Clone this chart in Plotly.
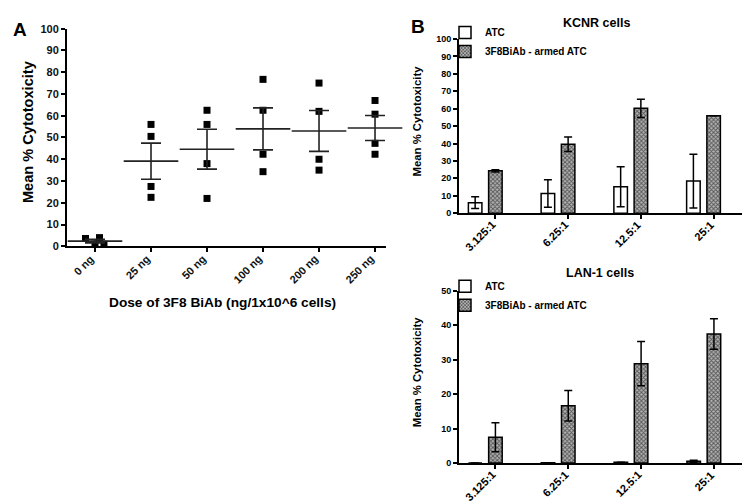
import numpy as np
import plotly.graph_objects as go

# ---------------- Data ----------------
# Panel A: individual replicate values per dose
doses = ["0 ng", "25 ng", "50 ng", "100 ng", "200 ng", "250 ng"]
rep_0ng = [3.6, 1.0, 4.0, 1.0]
rep_25ng = [56.0, 50.5, 27.5, 22.5]
rep_50ng = [62.5, 56.0, 38.0, 22.0]
rep_100ng = [76.7, 62.5, 42.3, 34.3]
rep_200ng = [75.0, 62.0, 40.0, 35.0]
rep_250ng = [67.0, 60.7, 47.3, 42.3]
replicates = [rep_0ng, rep_25ng, rep_50ng, rep_100ng, rep_200ng, rep_250ng]
jitter_0ng = [-0.17, 0.0, 0.08, 0.16]  # horizontal spread of overlapping points

# Panel B
ratios = ["3.125:1", "6.25:1", "12.5:1", "25:1"]
kcnr_atc = [6.0, 11.3, 15.1, 18.4]
kcnr_atc_err = [3.4, 7.9, 11.5, 15.5]
kcnr_armed = [24.3, 39.6, 60.2, 55.9]
kcnr_armed_err = [0.6, 4.2, 5.3, 0.0]
lan1_atc = [0.0, 0.1, 0.2, 0.5]
lan1_atc_err = [0.0, 0.0, 0.0, 0.3]
lan1_armed = [7.5, 16.6, 28.8, 37.4]
lan1_armed_err = [4.2, 4.4, 6.4, 4.4]

FONT = "Liberation Sans, Arial, sans-serif"
W, H = 750, 503

def px(x):
    return x / W

def py(y):
    return 1 - y / H

fig = go.Figure()

# ---------------- Panel A ----------------
xs, ys = [], []
for i, vals in enumerate(replicates):
    for j, v in enumerate(vals):
        off = jitter_0ng[j] if i == 0 else 0.0
        xs.append(i + off)
        ys.append(v)

fig.add_trace(go.Scatter(
    x=xs, y=ys, mode="markers", xaxis="x", yaxis="y", showlegend=False,
    marker=dict(symbol="square", size=7, color="black"), cliponaxis=False,
))

means = [float(np.mean(v)) for v in replicates]
sems = [float(np.std(v, ddof=1) / np.sqrt(len(v))) for v in replicates]
fig.add_trace(go.Scatter(
    x=list(range(len(doses))), y=means, mode="markers", xaxis="x", yaxis="y",
    showlegend=False, cliponaxis=False,
    marker=dict(symbol="line-ew", size=39, color="black",
                line=dict(color="#222", width=1.6)),
    error_y=dict(type="data", array=sems, visible=True, color="#222",
                 thickness=1.6, width=10),
))

# ---------------- Panel B ----------------
bw = 0.186
atc_off = -0.278 - bw / 2
armed_off = -bw / 2
pattern = dict(shape="x", fgcolor="#000000", bgcolor="#b4b4b4", size=3, solidity=0.55)

def add_pair(atc, atc_err, armed, armed_err, xa, ya, legend):
    fig.add_trace(go.Bar(
        x=ratios, y=atc, name="ATC", xaxis=xa, yaxis=ya, legend=legend,
        width=bw, offset=atc_off,
        marker=dict(color="white", line=dict(color="black", width=1.5)),
        error_y=dict(type="data", array=atc_err, visible=True, color="black",
                     thickness=1.5, width=4),
    ))
    fig.add_trace(go.Bar(
        x=ratios, y=armed, name="3F8BiAb - armed ATC", xaxis=xa, yaxis=ya,
        legend=legend, width=bw, offset=armed_off,
        marker=dict(color="#b4b4b4", line=dict(color="black", width=1.5), pattern=pattern),
        error_y=dict(type="data", array=armed_err, visible=True, color="black",
                     thickness=1.5, width=4),
    ))

add_pair(kcnr_atc, kcnr_atc_err, kcnr_armed, kcnr_armed_err, "x2", "y2", "legend")
add_pair(lan1_atc, lan1_atc_err, lan1_armed, lan1_armed_err, "x3", "y3", "legend2")

# ---------------- Axes ----------------
axis_common = dict(showline=True, linecolor="black", linewidth=2, ticks="outside",
                   ticklen=4, tickwidth=1.5, tickcolor="black", showgrid=False,
                   zeroline=False, fixedrange=True)

fig.update_layout(
    width=W, height=H, margin=dict(l=0, r=0, t=0, b=0),
    paper_bgcolor="white", plot_bgcolor="white",
    font=dict(family=FONT, color="black"),
    barmode="overlay",
    xaxis=dict(domain=[px(59), px(378)], range=[-0.5, 5.196], anchor="y",
               tickmode="array", tickvals=list(range(len(doses))), ticktext=doses,
               showticklabels=False, **axis_common),
    yaxis=dict(domain=[py(238), py(15)], range=[0, 100], anchor="x", dtick=10,
               tickfont=dict(size=11, weight="bold", color="#111"), **axis_common),
    xaxis2=dict(domain=[px(451), px(742)], range=[-0.5, 3.5], anchor="y2",
                type="category", showticklabels=False, **axis_common),
    yaxis2=dict(domain=[py(204), py(25.7)], range=[0, 100], anchor="x2", dtick=10,
                tickfont=dict(size=9, weight="bold"), **axis_common),
    xaxis3=dict(domain=[px(451), px(746)], range=[-0.5, 3.55], anchor="y3",
                type="category", showticklabels=False, **axis_common),
    yaxis3=dict(domain=[py(460), py(283.3)], range=[0, 50], anchor="x3", dtick=10,
                tickfont=dict(size=9, weight="bold"), **axis_common),
    legend=dict(x=px(437), y=py(4), xanchor="left", yanchor="top",
                bgcolor="rgba(0,0,0,0)", itemwidth=30, tracegroupgap=0,
                font=dict(size=10, weight="bold", family=FONT)),
    legend2=dict(x=px(437), y=py(264), xanchor="left", yanchor="top",
                 bgcolor="rgba(0,0,0,0)", itemwidth=30, tracegroupgap=0,
                 font=dict(size=10, weight="bold", family=FONT)),
)

ann = [
    dict(text="A", x=px(3), y=py(3), xanchor="left", yanchor="top", font=dict(size=19, weight="bold")),
    dict(text="B", x=px(401), y=py(0), xanchor="left", yanchor="top", font=dict(size=19, weight="bold")),
    dict(text="Mean % Cytotoxicity", x=px(20), y=py(121), textangle=-90,
         xanchor="center", yanchor="middle", font=dict(size=14.6, weight="bold")),
    dict(text="Dose of 3F8 BiAb (ng/1x10^6 cells)", x=px(214), y=py(296),
         xanchor="center", yanchor="middle", font=dict(size=13.7, weight="bold")),
    dict(text="KCNR cells", x=px(588), y=py(9), xanchor="center", yanchor="middle",
         font=dict(size=12.5, weight="bold")),
    dict(text="LAN-1 cells", x=px(592), y=py(265), xanchor="center", yanchor="middle",
         font=dict(size=12.5, weight="bold")),
    dict(text="Mean % Cytotoxicity", x=px(409), y=py(110), textangle=-90,
         xanchor="center", yanchor="middle", font=dict(size=11.3, weight="bold")),
    dict(text="Mean % Cytotoxicity", x=px(409), y=py(367), textangle=-90,
         xanchor="center", yanchor="middle", font=dict(size=11.3, weight="bold")),
]
for a in ann:
    a.update(xref="paper", yref="paper")

# rotated category labels anchored at each tick (top-right corner at the tick end)
for i, d in enumerate(doses):
    ann.append(dict(text=d, x=i, xref="x", y=0, yref="y", textangle=-45,
                    xanchor="right", yanchor="top", xshift=4, yshift=-3,
                    font=dict(size=11, weight="bold", color="#111")))
for xr, yr in (("x2", "y2"), ("x3", "y3")):
    for r in ratios:
        ann.append(dict(text=r, x=r, xref=xr, y=0, yref=yr, textangle=-45,
                        xanchor="right", yanchor="top", xshift=5, yshift=-3,
                        font=dict(size=11, weight="bold")))

for a in ann:
    a["showarrow"] = False
    a["font"].setdefault("family", FONT)
    a["font"].setdefault("color", "black")
fig.update_layout(annotations=ann)

fig.write_html("out.html")
